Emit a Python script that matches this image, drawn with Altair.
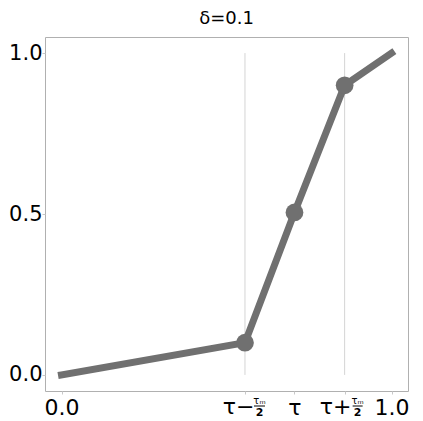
import altair as alt
import pandas as pd

title_text = "δ=0.1"
curve_x = [0.0, 0.556, 0.706, 0.858, 1.0]
curve_y = [0.0, 0.1, 0.505, 0.9, 1.0]
knot_x = [0.556, 0.706, 0.858]
knot_y = [0.1, 0.505, 0.9]
guide_x = [0.556, 0.858]
guide_y0 = [0.0, 0.0]
guide_y1 = [1.0, 1.0]
x_tick_values = [0.0, 0.556, 0.706, 0.858, 1.0]
x_tick_labels = ["0.0", "", "τ", "", "1.0"]
y_tick_values = [0.0, 0.5, 1.0]
frac_prefix = ["τ−", "τ+"]
frac_num = "τₘ"
frac_den = "2"

GREY = "#707070"
W, H = 363, 354

curve = pd.DataFrame({"x": curve_x, "y": curve_y})
knots = pd.DataFrame({"x": knot_x, "y": knot_y})
guides = pd.DataFrame({"x": guide_x, "y0": guide_y0, "y1": guide_y1})

expr = "''"
for v, l in reversed(list(zip(x_tick_values, x_tick_labels))):
    expr = f"abs(datum.value-{v})<1e-6 ? '{l}' : {expr}"

xs = alt.Scale(domain=[-0.05, 1.05], nice=False, zero=False)
ys = alt.Scale(domain=[-0.05, 1.05], nice=False, zero=False)

xax = alt.Axis(values=x_tick_values, labelExpr=expr, title=None, domain=False,
               grid=False, tickSize=3, tickColor="#c8c8c8", labelPadding=3,
               labelFont="DejaVu Sans", labelFontSize=22, labelColor="black",
               labelFlush=False, labelOverlap=False)
yax = alt.Axis(values=y_tick_values, format=".1f", title=None, domain=False,
               grid=False, tickSize=3, tickColor="#c8c8c8", labelPadding=0,
               labelFont="DejaVu Sans", labelFontSize=21, labelColor="black")

guide_layer = alt.Chart(guides).mark_rule(color="#d4d4d4", strokeWidth=1).encode(
    x=alt.X("x:Q", scale=xs, axis=xax),
    y=alt.Y("y0:Q", scale=ys, axis=yax),
    y2="y1:Q",
)
line_layer = alt.Chart(curve).mark_line(color=GREY, strokeWidth=7, strokeCap="square").encode(
    x=alt.X("x:Q", scale=xs), y=alt.Y("y:Q", scale=ys)
)
pt_layer = alt.Chart(knots).mark_circle(color=GREY, size=314, opacity=1).encode(
    x=alt.X("x:Q", scale=xs), y=alt.Y("y:Q", scale=ys)
)
title_layer = alt.Chart(pd.DataFrame({"t": [title_text]})).mark_text(
    font="DejaVu Sans", fontSize=18, color="black", baseline="alphabetic", align="center"
).encode(x=alt.value(W / 2), y=alt.value(-13), text="t:N")

layers = [guide_layer, line_layer, pt_layer, title_layer]
settings = [(-6.5, 9, 20), (-9, 8, 18)]
for i, (pdx, f0, f1) in enumerate(settings):
    d = pd.DataFrame({"x": [guide_x[i]], "p": [frac_prefix[i]], "n": [frac_num], "d": [frac_den]})
    base = alt.Chart(d)
    fc = (f0 + f1) / 2
    layers.append(base.mark_text(font="DejaVu Sans", fontSize=22, baseline="top", dx=pdx, dy=0,
                                 color="black").encode(
        x=alt.X("x:Q", scale=xs), y=alt.value(H + 6), text="p:N"))
    layers.append(base.mark_text(font="DejaVu Sans", fontSize=10, baseline="alphabetic", dx=fc,
                                 color="black").encode(
        x=alt.X("x:Q", scale=xs), y=alt.value(H + 13), text="n:N"))
    layers.append(base.mark_rule(color="black", strokeWidth=1, xOffset=f0, x2Offset=f1).encode(
        x=alt.X("x:Q", scale=xs), x2="x:Q", y=alt.value(H + 15)))
    layers.append(base.mark_text(font="DejaVu Sans", fontSize=11, fontWeight="bold", baseline="alphabetic", dx=fc,
                                 color="black").encode(
        x=alt.X("x:Q", scale=xs), y=alt.value(H + 25), text="d:N"))

chart = alt.layer(*layers).properties(
    width=W, height=H,
    autosize=alt.AutoSizeParams(type="none"),
    padding={"left": 37, "top": 29, "right": 7, "bottom": 30},
).configure_view(stroke="#b0b0b0", strokeWidth=1)

chart.save("out.html", embed_options={"renderer": "svg", "actions": False})
